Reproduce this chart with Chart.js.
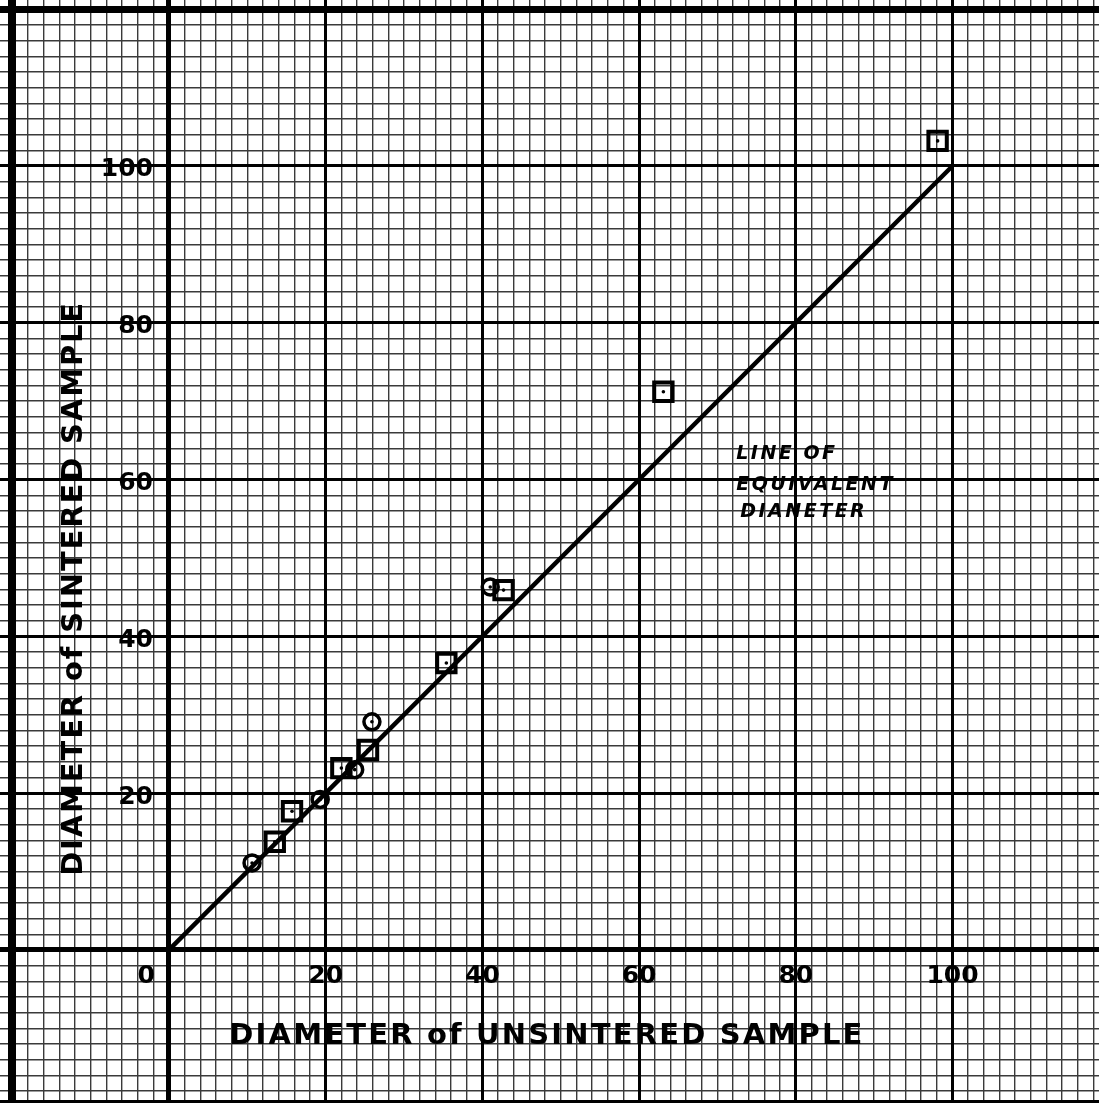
<!DOCTYPE html>
<html>
<head>
<meta charset="utf-8">
<script src="https://cdn.jsdelivr.net/npm/chart.js@4.4.1/dist/chart.umd.min.js"></script>
<style>
  html, body { margin: 0; padding: 0; background: #fff; }
</style>
</head>
<body>
<canvas id="myChart" width="1099" height="1103"></canvas>
<script>
// square markers (unsintered, sintered)
const squareX = [13.5, 15.7, 22.0, 25.4, 35.4, 42.7, 63.1, 98.1];
const squareY = [13.8, 17.7, 23.2, 25.5, 36.6, 45.9, 71.2, 103.2];
// circle markers
const circleX = [10.6, 19.3, 23.7, 25.9, 41.0];
const circleY = [11.1, 19.2, 23.0, 29.1, 46.3];
// line of equivalent diameter
const lineX = [0, 100];
const lineY = [0, 100];

const xTickLabels = ['0', '20', '40', '60', '80', '100'];
const yTickLabels = ['20', '40', '60', '80', '100'];
const xTitle = 'DIAMETER of UNSINTERED SAMPLE';
const yTitle = 'DIAMETER of SINTERED SAMPLE';
const noteLines = ['LINE OF', 'EQUIVALENT', 'DIANETER'];

const toPoints = (xs, ys) => xs.map((x, i) => ({x: x, y: ys[i]}));

// graph paper lines, every 2 units, heavy every 20
const minorLines = [];
const majorLines = [];
for (let v = -20; v <= 120; v += 2) {
  if (v % 20 === 0) majorLines.push(v);
  else minorLines.push(v);
}
const setTicks = (vals) => (scale) => {
  scale.ticks = vals.map(v => ({value: v}));
};

const X_MIN = -21.57, X_MAX = 118.7;
const Y_MIN = -19.52, Y_MAX = 121.17;

// draws tick labels, titles and the note inside the grid
const paperText = {
  id: 'paperText',
  afterDatasetsDraw(chart) {
    const ctx = chart.ctx;
    const x = chart.scales.x;
    const y = chart.scales.y;
    const x0 = x.getPixelForValue(0);
    const y0 = y.getPixelForValue(0);
    ctx.save();
    ctx.fillStyle = '#000';
    ctx.textBaseline = 'middle';

    ctx.font = 'bold 25px "DejaVu Sans"';
    xTickLabels.forEach(t => {
      const v = Number(t);
      if (v === 0) {
        ctx.textAlign = 'right';
        ctx.fillText(t, x0 - 14, y0 + 27);
      } else {
        ctx.textAlign = 'center';
        ctx.fillText(t, x.getPixelForValue(v), y0 + 27);
      }
    });
    ctx.textAlign = 'right';
    yTickLabels.forEach(t => {
      ctx.fillText(t, x0 - 16, y.getPixelForValue(Number(t)) + 4);
    });

    // axis titles, stretched to the lettering width
    ctx.font = 'bold 29px "DejaVu Sans"';
    ctx.textAlign = 'left';
    const drawSpread = (text, width) => {
      ctx.letterSpacing = '0px';
      const w = ctx.measureText(text).width;
      const sp = (width - w) / (text.length - 1);
      ctx.letterSpacing = sp + 'px';
      ctx.fillText(text, -width / 2, 0);
      ctx.letterSpacing = '0px';
    };
    ctx.save();
    ctx.translate(x.getPixelForValue(48.1), y0 + 87);
    drawSpread(xTitle, 633);
    ctx.restore();

    ctx.save();
    ctx.translate(x0 - 95, y.getPixelForValue(46));
    ctx.rotate(-Math.PI / 2);
    drawSpread(yTitle, 573);
    ctx.restore();

    // note beside the line
    ctx.font = 'italic bold 19px "DejaVu Sans"';
    ctx.letterSpacing = '2.5px';
    ctx.textAlign = 'left';
    const nx = x.getPixelForValue(72.4);
    const ny = y.getPixelForValue(63.3);
    ctx.fillText(noteLines[0], nx, ny);
    ctx.fillText(noteLines[1], nx, ny + 31);
    ctx.fillText(noteLines[2], nx + 4, ny + 58);
    ctx.restore();
  }
};

const ctx = document.getElementById('myChart');

new Chart(ctx, {
  type: 'scatter',
  data: {
    datasets: [
      {
        data: toPoints(lineX, lineY),
        showLine: true,
        borderColor: '#000',
        borderWidth: 4.5,
        pointRadius: 0
      },
      {
        data: toPoints(squareX, squareY),
        pointStyle: 'rect',
        pointRadius: 13,
        pointBorderWidth: 4,
        pointBorderColor: '#000',
        pointBackgroundColor: 'rgba(0,0,0,0)'
      },
      {
        data: toPoints(circleX, circleY),
        pointStyle: 'circle',
        pointRadius: 8,
        pointBorderWidth: 3.5,
        pointBorderColor: '#000',
        pointBackgroundColor: 'rgba(0,0,0,0)'
      },
      {
        // centre dots of every marker
        data: toPoints(squareX.concat(circleX), squareY.concat(circleY)),
        pointStyle: 'circle',
        pointRadius: 1.8,
        pointBorderWidth: 0,
        pointBackgroundColor: '#000'
      }
    ]
  },
  options: {
    responsive: false,
    animation: false,
    events: [],
    layout: { padding: 0, autoPadding: false },
    plugins: {
      legend: { display: false },
      tooltip: { enabled: false }
    },
    scales: {
      x: {
        type: 'linear', position: 'bottom', bounds: 'data',
        min: X_MIN, max: X_MAX,
        afterBuildTicks: setTicks(minorLines),
        ticks: { display: false },
        grid: { drawTicks: false, color: '#3a3a3a', lineWidth: 1.4 },
        border: { display: false }
      },
      y: {
        type: 'linear', position: 'left', bounds: 'data',
        min: Y_MIN, max: Y_MAX,
        afterBuildTicks: setTicks(minorLines),
        ticks: { display: false },
        grid: { drawTicks: false, color: '#3a3a3a', lineWidth: 1.4 },
        border: { display: false }
      },
      xMajor: {
        type: 'linear', axis: 'x', position: 'bottom', bounds: 'data',
        min: X_MIN, max: X_MAX,
        afterBuildTicks: setTicks(majorLines),
        ticks: { display: false },
        grid: {
          drawTicks: false, color: '#000',
          lineWidth: c => c.tick.value === 0 ? 5 : (c.tick.value === -20 ? 8 : 3)
        },
        border: { display: true, color: '#000', width: 6 }
      },
      yMajor: {
        type: 'linear', axis: 'y', position: 'left', bounds: 'data',
        min: Y_MIN, max: Y_MAX,
        afterBuildTicks: setTicks(majorLines),
        ticks: { display: false },
        grid: {
          drawTicks: false, color: '#000',
          lineWidth: c => c.tick.value === 0 ? 5 : (c.tick.value === 120 ? 7 : 3)
        },
        border: { display: false }
      }
    }
  },
  plugins: [paperText]
});
</script>
</body>
</html>
